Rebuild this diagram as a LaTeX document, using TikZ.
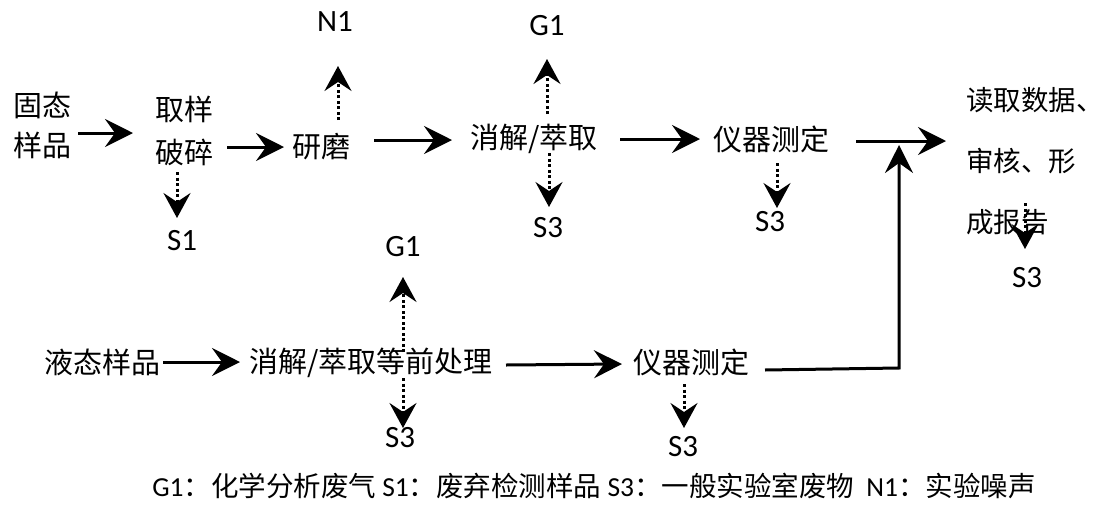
\documentclass[tikz,border=0pt]{standalone}
\usepackage{fontspec}
\setmainfont{Noto Sans CJK SC}
\newfontfamily\lat{Carlito}
\usetikzlibrary{arrows.meta}
\begin{document}
\begin{tikzpicture}[x=1pt,y=-1pt,
  txt/.style={inner sep=0pt, font=\fontsize{29}{40}\selectfont},
  lab/.style={inner sep=0pt, font=\lat\fontsize{31}{33}\selectfont},
  arr/.style={line width=3pt, -{Stealth[length=28pt,width=28pt,inset=10pt]}},
  darr/.style={line width=3pt, dash pattern=on 3pt off 2.5pt, -{Stealth[length=25pt,width=27pt,inset=9pt]}},
]
\useasboundingbox (0,0) rectangle (1098,504);
% row 1 nodes
\node[txt, align=left] (gt) at (42,125) {固态\\样品};
\node[txt, align=center, font=\fontsize{29}{43}\selectfont] (qy) at (184,131) {取样\\破碎};
\node[txt] (ym) at (321,147) {研磨};
\node[txt] (xj) at (534,139) {消解/萃取};
\node[txt] (yq1) at (771,139) {仪器测定};
\node[txt, align=left, anchor=west, font=\fontsize{27.5}{61}\selectfont] (dq) at (966,161) {读取数据、\\审核、形\\成报告};
% row 1 labels
\node[lab] (n1) at (335,22) {N1};
\node[lab] (s1) at (182,241) {S1};
\node[lab] (g1a) at (547,26) {G1};
\node[lab] (s3a) at (548,228) {S3};
\node[lab] (s3b) at (770,222) {S3};
\node[lab] (s3c) at (1027,278) {S3};
% row 2 nodes
\node[txt] (yt) at (102,362) {液态样品};
\node[txt] (xj2) at (371,363) {消解/萃取等前处理};
\node[txt] (yq2) at (691,362) {仪器测定};
\node[lab] (g1b) at (403,247) {G1};
\node[lab] (s3d) at (400,438) {S3};
\node[lab] (s3e) at (683,447) {S3};
% legend
\node[txt, font=\fontsize{27.5}{30}\selectfont] (leg) at (594,486) {{\lat G1}：化学分析废气 {\lat S1}：废弃检测样品 {\lat S3}：一般实验室废物\ \ {\lat N1}：实验噪声};
% coordinates
\coordinate (a1s) at (78,133); \coordinate (a1e) at (133,133);
\coordinate (a2s) at (227,147); \coordinate (a2e) at (284,147);
\coordinate (a3s) at (374,140); \coordinate (a3e) at (452,140);
\coordinate (a4s) at (620,139); \coordinate (a4e) at (700,139);
\coordinate (a5s) at (856,141); \coordinate (a5e) at (946,141);
\coordinate (b1s) at (163,362); \coordinate (b1e) at (240,362);
\coordinate (b2s) at (506,365); \coordinate (b2e) at (622,364);
\coordinate (j1) at (765,370); \coordinate (j2) at (899,368); \coordinate (j3) at (899,145);
% dotted coordinates
\coordinate (dn1s) at (338,120); \coordinate (dn1e) at (338,66);
\coordinate (ds1s) at (177,172); \coordinate (ds1e) at (177,218);
\coordinate (dg1s) at (547,114); \coordinate (dg1e) at (547,59);
\coordinate (ds3as) at (549,153); \coordinate (ds3ae) at (549,207);
\coordinate (ds3bs) at (777,163); \coordinate (ds3be) at (777,208);
\coordinate (ds3cs) at (1025,203); \coordinate (ds3ce) at (1025,249);
\coordinate (dg1bs) at (403,352); \coordinate (dg1be) at (403,277);
\coordinate (ds3ds) at (403,378); \coordinate (ds3de) at (403,428);
\coordinate (ds3es) at (684,384); \coordinate (ds3ee) at (684,428);
% arrows
\draw[arr] (a1s) -- (a1e);
\draw[arr] (a2s) -- (a2e);
\draw[arr] (a3s) -- (a3e);
\draw[arr] (a4s) -- (a4e);
\draw[arr] (a5s) -- (a5e);
\draw[arr] (b1s) -- (b1e);
\draw[arr] (b2s) -- (b2e);
\draw[arr] (j1) -- (j2) -- (j3);
\draw[darr] (dn1s) -- (dn1e);
\draw[darr] (ds1s) -- (ds1e);
\draw[darr] (dg1s) -- (dg1e);
\draw[darr] (ds3as) -- (ds3ae);
\draw[darr] (ds3bs) -- (ds3be);
\draw[darr] (ds3cs) -- (ds3ce);
\draw[darr] (dg1bs) -- (dg1be);
\draw[darr] (ds3ds) -- (ds3de);
\draw[darr] (ds3es) -- (ds3ee);
\end{tikzpicture}
\end{document}
